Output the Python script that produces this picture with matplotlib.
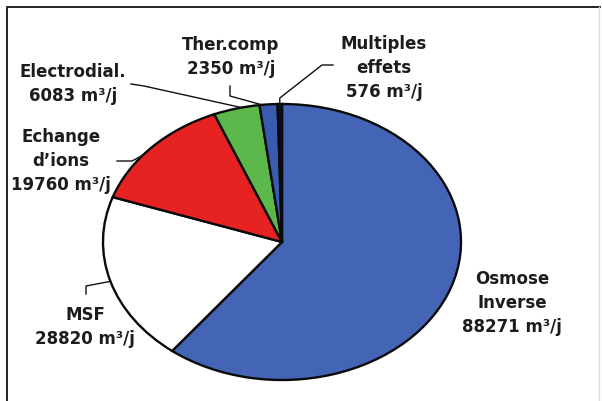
import numpy as np
import matplotlib
matplotlib.use("Agg")
import matplotlib.pyplot as plt
from matplotlib.lines import Line2D

# Production by desalination process (m3 per day)
processes = ["Osmose\nInverse", "MSF", "Echange\nd\u2019ions", "Electrodial.", "Ther.comp", "Multiples\neffets"]
volumes = [88271, 28820, 19760, 6083, 2350, 576]
unit = "m\u00b3/j"
colors = ["#4465B6", "#FFFFFF", "#E62222", "#5CB84A", "#3A5CB0", "#0B1226"]

W, H = 602, 402
fig = plt.figure(figsize=(W / 100, H / 100), dpi=100)

# Pie drawn as an ellipse: centre and radii in pixels (y measured from top)
cx, cy, rx, ry = 282, 243, 179, 138
ax = fig.add_axes([(cx - rx) / W, (H - cy - ry) / H, 2 * rx / W, 2 * ry / H])
wedges, _ = ax.pie(volumes, colors=colors, startangle=90, counterclock=False,
                   wedgeprops=dict(edgecolor="#0a0a0a", linewidth=1.7))
for w in wedges:
    w.set_clip_on(False)
ax.set_aspect("auto")
ax.set_xlim(-1, 1)
ax.set_ylim(-1, 1)
ax.axis("off")

# Overlay in pixel coordinates for labels, leader lines and frame
ov = fig.add_axes([0, 0, 1, 1])
ov.set_xlim(0, W)
ov.set_ylim(H, 0)
ov.axis("off")

# wedge boundary angles (degrees), clockwise from the top
total = float(sum(volumes))
bounds = 90 - 360 * np.concatenate([[0], np.cumsum(volumes)]) / total


def edge_point(i, frac):
    a = np.deg2rad(bounds[i] + frac * (bounds[i + 1] - bounds[i]))
    disp = ax.transData.transform((np.cos(a), np.sin(a)))
    return ov.transData.inverted().transform(disp)


text_kw = dict(ha="center", va="center", fontsize=12, fontweight="bold",
               family="DejaVu Sans", color="#1c1c1c", linespacing=1.45)

# label block centres (px) and leader-line elbows
label_pos = [(512, 303), (85, 327), (61, 161), (73, 84), (231, 57), (384, 68)]
anchor_frac = [None, 0.5, 0.41, 0.61, 0.14, 0.5]
elbows = [
    None,
    [(86, 287), (86, 295)],
    [(132, 162), (117, 162)],
    [(144, 87), (131, 85)],
    [(230, 97), (230, 87)],
    [None, (322, 66), (333, 66)],
]

for i, (name, val) in enumerate(zip(processes, volumes)):
    x, y = label_pos[i]
    ov.text(x, y, f"{name}\n{val} {unit}", **text_kw)
    if anchor_frac[i] is None:
        continue
    p0 = edge_point(i, anchor_frac[i])
    pts = [tuple(p0)]
    for e in elbows[i]:
        if e is None:
            pts.append((p0[0], p0[1] - 6))
        else:
            pts.append(e)
    xs, ys = zip(*pts)
    ov.add_line(Line2D(xs, ys, color="#111111", lw=1.0))

# frame
ov.add_line(Line2D([7, 7, 600], [H, 8, 8], color="#222222", lw=1.4))
ov.add_line(Line2D([599, 599], [8, H], color="#dddddd", lw=1.0))

fig.savefig("out.png", dpi=100)
